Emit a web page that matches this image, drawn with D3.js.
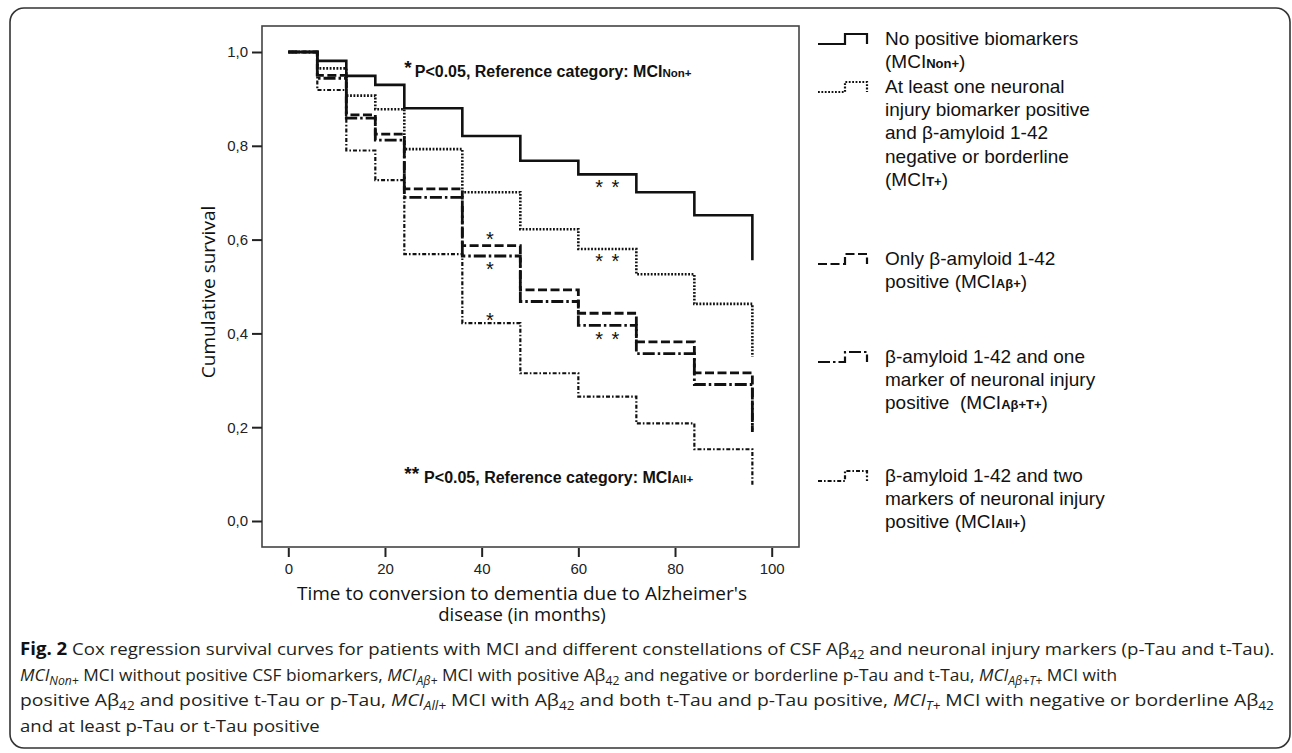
<!DOCTYPE html>
<meta charset="utf-8">
<style>
body { margin: 0; background: #fff; }
svg { display: block; }
.tick text { font-family: "Liberation Sans", Arial, sans-serif; font-size: 15px; fill: #222; }
.tick line { stroke: #222; stroke-width: 2px; }
.legend text { font-family: "Liberation Sans", Arial, sans-serif; font-size: 19px; fill: #111; }
.note { font-family: "Liberation Sans", Arial, sans-serif; font-weight: bold; font-size: 16px; fill: #111; }
.star { font-family: "Liberation Sans", Arial, sans-serif; font-size: 20px; fill: #111; }
.title { font-family: "Open Sans", sans-serif; font-size: 19px; fill: #111; }
.caption { font-family: "Open Sans", sans-serif; font-size: 17px; fill: #231f20; }
</style>
<svg width="1292" height="753"></svg>
<script src="https://d3js.org/d3.v7.min.js"></script>
<script>

var svg = d3.select("svg");

// time points (months) and cumulative survival after each step
var times = [0, 6, 12, 18, 24, 36, 48, 60, 72, 84, 96];
var survNon = [1.0, 0.981, 0.949, 0.930, 0.880, 0.821, 0.768, 0.739, 0.701, 0.652, 0.556];
var survT = [1.0, 0.965, 0.907, 0.878, 0.793, 0.701, 0.622, 0.580, 0.526, 0.463, 0.350];
var survAb = [1.0, 0.950, 0.866, 0.825, 0.708, 0.587, 0.493, 0.443, 0.382, 0.316, 0.195];
var survAbT = [1.0, 0.944, 0.859, 0.812, 0.690, 0.565, 0.468, 0.417, 0.357, 0.291, 0.190];
var survAll = [1.0, 0.919, 0.790, 0.727, 0.569, 0.422, 0.315, 0.265, 0.208, 0.153, 0.077];

var yTicks = [0, 0.2, 0.4, 0.6, 0.8, 1.0];
var xTicks = [0, 20, 40, 60, 80, 100];

// significance asterisks: [time, survival, label]
var stars = [[66, 0.721, "* *"], [66, 0.564, "* *"], [41.7, 0.610, "*"], [41.7, 0.546, "*"], [41.7, 0.437, "*"], [66, 0.398, "* *"]];

// legend rows ("|" marks the small bold subscript)
var legendRows = [
  ["No positive biomarkers", "(MCI|Non+|)"],
  ["At least one neuronal", "injury biomarker positive", "and β-amyloid 1-42", "negative or borderline", "(MCI|T+|)"],
  ["Only β-amyloid 1-42", "positive (MCI|Aβ+|)"],
  ["β-amyloid 1-42 and one", "marker of neuronal injury", "positive  (MCI|Aβ+T+|)"],
  ["β-amyloid 1-42 and two", "markers of neuronal injury", "positive (MCI|All+|)"]
];

var series = [survAll, survAbT, survAb, survT, survNon];
var legendSeries = [survNon, survT, survAb, survAbT, survAll];

// line styles, same order as legendSeries
var styles = [
  {dash: null, w: 2.6},
  {dash: "1.8,1.6", w: 2.6},
  {dash: "9,3.5", w: 2.8},
  {dash: "12,3,2.5,3", w: 2.8},
  {dash: "4,2,1.6,2", w: 2.2}
];

// outer frame
svg.append("rect").attr("x", 10).attr("y", 8).attr("width", 1280).attr("height", 740)
  .attr("rx", 14).attr("fill", "none").attr("stroke", "#333").attr("stroke-width", 1.6);

var x = d3.scaleLinear().domain([0, 100]).range([288.3, 771.7]);
var y = d3.scaleLinear().domain([0, 1]).range([521, 52]);

// plot box
svg.append("rect").attr("x", 262).attr("y", 26).attr("width", 537).attr("height", 521)
  .attr("fill", "none").attr("stroke", "#444").attr("stroke-width", 1.6);

var fmt = function(d) { return d3.format(".1f")(d).replace(".", ","); };
svg.append("g").attr("transform", "translate(262,0)")
  .call(d3.axisLeft(y).tickValues(yTicks).tickFormat(fmt).tickSize(10).tickPadding(4))
  .call(g => g.select(".domain").remove());
svg.append("g").attr("transform", "translate(0,548)")
  .call(d3.axisBottom(x).tickValues(xTicks).tickSize(9).tickPadding(6))
  .call(g => g.select(".domain").remove());

var line = d3.line().x(d => x(d[0])).y(d => y(d[1])).curve(d3.curveStepAfter);

var styleOf = function(vals) { return styles[legendSeries.indexOf(vals)]; };

svg.append("g").selectAll("path").data(series).enter().append("path")
  .attr("d", vals => line(times.map((t, i) => [t, vals[i]])))
  .attr("fill", "none").attr("stroke", "#111")
  .attr("stroke-width", vals => styleOf(vals).w)
  .attr("stroke-dasharray", vals => styleOf(vals).dash);

svg.append("g").selectAll("text").data(stars).enter().append("text")
  .attr("class", "star").attr("x", d => x(d[0])).attr("y", d => y(d[1]))
  .attr("dy", "0.57em").attr("text-anchor", "middle").attr("word-spacing", "3px")
  .text(d => d[2]);

// notes
function note(t, v, starTxt, sub, gap) {
  var g = svg.append("text").attr("class", "note").attr("x", x(t)).attr("y", y(v));
  g.append("tspan").attr("font-size", 19).attr("dy", -3).text(starTxt);
  g.append("tspan").attr("dx", gap).attr("dy", 3).text("P<0.05, Reference category: MCI");
  g.append("tspan").attr("font-size", 11.5).text(sub);
}
note(24, 0.947, "*", "Non+", 3);
note(24, 0.081, "**", "All+", 5);

// axis titles
svg.append("text").attr("class", "title").attr("text-anchor", "middle")
  .attr("transform", "translate(215,292) rotate(-90)").text("Cumulative survival");
var xt = svg.append("text").attr("class", "title").attr("text-anchor", "middle");
xt.append("tspan").attr("x", 522).attr("y", 600).text("Time to conversion to dementia due to Alzheimer's");
xt.append("tspan").attr("x", 522).attr("dy", 21).attr("font-size", 18.5).text("disease (in months)");

// legend
var legendY = [45, 93, 265, 363, 482];
var glyph = d3.line();
var lg = svg.append("g").attr("class", "legend");
legendRows.forEach(function(rows, i) {
  var st = styles[i], by = legendY[i];
  lg.append("path")
    .attr("d", glyph([[818, by - 1], [845, by - 1], [845, by - 11], [867, by - 11], [867, by - 1]]))
    .attr("fill", "none").attr("stroke", "#111").attr("stroke-width", 2.2)
    .attr("stroke-dasharray", st.dash ? st.dash : null);
  rows.forEach(function(r, j) {
    var t = lg.append("text").attr("x", 885).attr("y", by + j * 23.2).attr("xml:space", "preserve");
    r.split("|").forEach(function(part, k) {
      var s = t.append("tspan").text(part);
      if (k == 1) s.attr("font-size", 13).attr("font-weight", "bold");
    });
  });
});

// caption
var caption = [
  [["Fig. 2", "b"], [" Cox regression survival curves for patients with MCI and different constellations of CSF Aβ"], ["42", "s"], [" and neuronal injury markers (p-Tau and t-Tau)."]],
  [["MCI", "i"], ["Non+", "is"], [" MCI without positive CSF biomarkers, "], ["MCI", "i"], ["Aβ+", "is"], [" MCI with positive Aβ"], ["42", "s"], [" and negative or borderline p-Tau and t-Tau, "], ["MCI", "i"], ["Aβ+T+", "is"], [" MCI with"]],
  [["positive Aβ"], ["42", "s"], [" and positive t-Tau or p-Tau, "], ["MCI", "i"], ["All+", "is"], [" MCI with Aβ"], ["42", "s"], [" and both t-Tau and p-Tau positive, "], ["MCI", "i"], ["T+", "is"], [" MCI with negative or borderline Aβ"], ["42", "s"]],
  [["and at least p-Tau or t-Tau positive"]]
];
var capY = [655, 681, 706.5, 732];
var capW = [1255, 1098, 1255, 300];
var cap = svg.append("g").attr("class", "caption");
caption.forEach(function(segs, i) {
  var g = cap.append("g");
  var t = g.append("text").attr("x", 0).attr("y", capY[i]).attr("xml:space", "preserve");
  var back = 0;
  segs.forEach(function(s) {
    var f = s[1] || "";
    var ts = t.append("tspan").text(s[0]);
    if (f.indexOf("b") >= 0) ts.attr("font-weight", "bold").attr("fill", "#111");
    if (f.indexOf("i") >= 0) ts.attr("font-style", "italic");
    if (f.indexOf("s") >= 0) {
      ts.attr("font-size", 12).attr("dy", 4 - back);
      back = 4;
    } else if (back) {
      ts.attr("dy", -back);
      back = 0;
    }
  });
  var natural = t.node().getComputedTextLength();
  g.attr("transform", "translate(20,0) scale(" + (capW[i] / natural) + ",1)");
});

</script>
